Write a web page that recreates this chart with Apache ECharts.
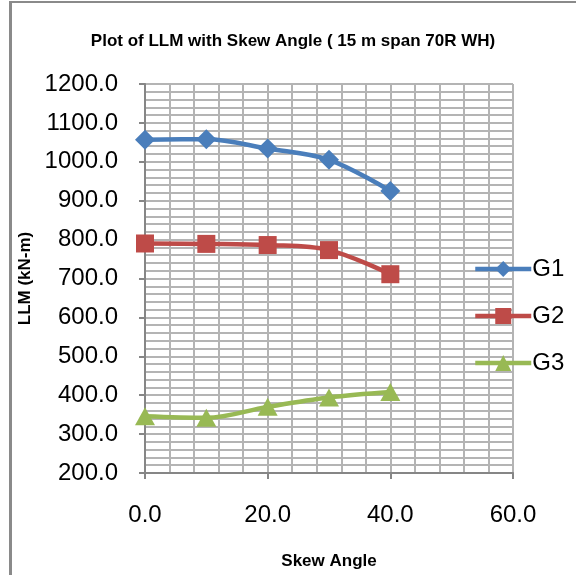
<!DOCTYPE html>
<html>
<head>
<meta charset="utf-8">
<script src="https://cdn.jsdelivr.net/npm/echarts@6/dist/echarts.min.js"></script>
<style>
  body { margin: 0; background: #fff; }
  #chart { position: absolute; left: 0; top: 0; width: 576px; height: 575px; }
  .frame {
    position: absolute; left: 9px; top: 1px; right: 0; bottom: 0;
    border-left: 3px solid #8a8a8a; border-top: 2px solid #8a8a8a;
    pointer-events: none;
  }
</style>
</head>
<body>
<div id="chart"></div>
<div class="frame"></div>
<script>
// skew angle (deg) and LLM values (kN-m)
const skewAngles = [0, 10, 20, 30, 40];
const g1 = [1057, 1058, 1034, 1005, 925];
const g2 = [790, 789, 786, 773, 711];
const g3 = [346, 342, 370, 394, 408];

const names = ["G1", "G2", "G3"];
const colors = ["#4a7ebb", "#be4b48", "#98b954"];
const symbols = ["diamond", "rect", "triangle"];
const symbolSizes = [[20, 20], [18, 18], [20, 18]];

const gridColor = "#b4b4b4";
const axisColor = "#868686";
const narrow = "'Liberation Sans Narrow', 'Liberation Sans', Arial, sans-serif";
const sans = "'Liberation Sans', Arial, sans-serif";

const chart = echarts.init(document.getElementById("chart"), null, { renderer: "canvas" });

const series = [g1, g2, g3].map((vals, i) => ({
  name: names[i],
  type: "line",
  smooth: 0.35,
  data: skewAngles.map((x, j) => [x, vals[j]]),
  symbol: symbols[i],
  symbolSize: symbolSizes[i],
  showAllSymbol: true,
  lineStyle: { color: colors[i], width: 4.5 },
  itemStyle: { color: colors[i] },
  z: 3
}));

chart.setOption({
  animation: false,
  title: {
    text: "Plot of LLM with Skew Angle ( 15 m span 70R WH)",
    left: 288,
    textAlign: "center",
    top: 28,
    textStyle: { fontFamily: narrow, fontWeight: "bold", fontSize: 17, color: "#000" }
  },
  grid: { left: 145, right: 63, top: 84, bottom: 102, containLabel: false },
  legend: {
    orient: "vertical",
    left: 468,
    top: 252,
    itemWidth: 56,
    itemHeight: 20,
    itemGap: 23,
    data: names,
    lineStyle: { width: 4.5 },
    textStyle: { fontFamily: sans, fontSize: 24, color: "#000", lineHeight: 24, padding: [0, 0, 0, -4] }
  },
  xAxis: {
    type: "value",
    min: 0,
    max: 60,
    interval: 20,
    name: "Skew Angle",
    nameLocation: "middle",
    nameGap: 80,
    nameTextStyle: { fontFamily: narrow, fontWeight: "bold", fontSize: 17, color: "#000" },
    axisLine: { show: true, lineStyle: { color: axisColor, width: 2 } },
    axisTick: { show: true, inside: false, length: 6, lineStyle: { color: axisColor, width: 2 } },
    axisLabel: {
      margin: 30,
      fontFamily: sans,
      fontSize: 24,
      color: "#000",
      formatter: v => v.toFixed(1)
    },
    splitLine: { show: true, lineStyle: { color: gridColor, width: 2 } },
    minorTick: { show: false, splitNumber: 5 },
    minorSplitLine: { show: true, lineStyle: { color: gridColor, width: 2 } }
  },
  yAxis: {
    type: "value",
    min: 200,
    max: 1200,
    interval: 100,
    name: "LLM (kN-m)",
    nameLocation: "middle",
    nameGap: 104,
    nameRotate: 90,
    nameTextStyle: { fontFamily: narrow, fontWeight: "bold", fontSize: 17, color: "#000" },
    axisLine: { show: true, lineStyle: { color: axisColor, width: 2 } },
    axisTick: { show: true, inside: false, length: 6, lineStyle: { color: axisColor, width: 2 } },
    axisLabel: {
      margin: 27,
      fontFamily: sans,
      fontSize: 24,
      color: "#000",
      formatter: v => v.toFixed(1)
    },
    splitLine: { show: true, lineStyle: { color: gridColor, width: 2 } },
    minorTick: { show: false, splitNumber: 5 },
    minorSplitLine: { show: true, lineStyle: { color: gridColor, width: 2 } }
  },
  series: series
});
</script>
</body>
</html>
